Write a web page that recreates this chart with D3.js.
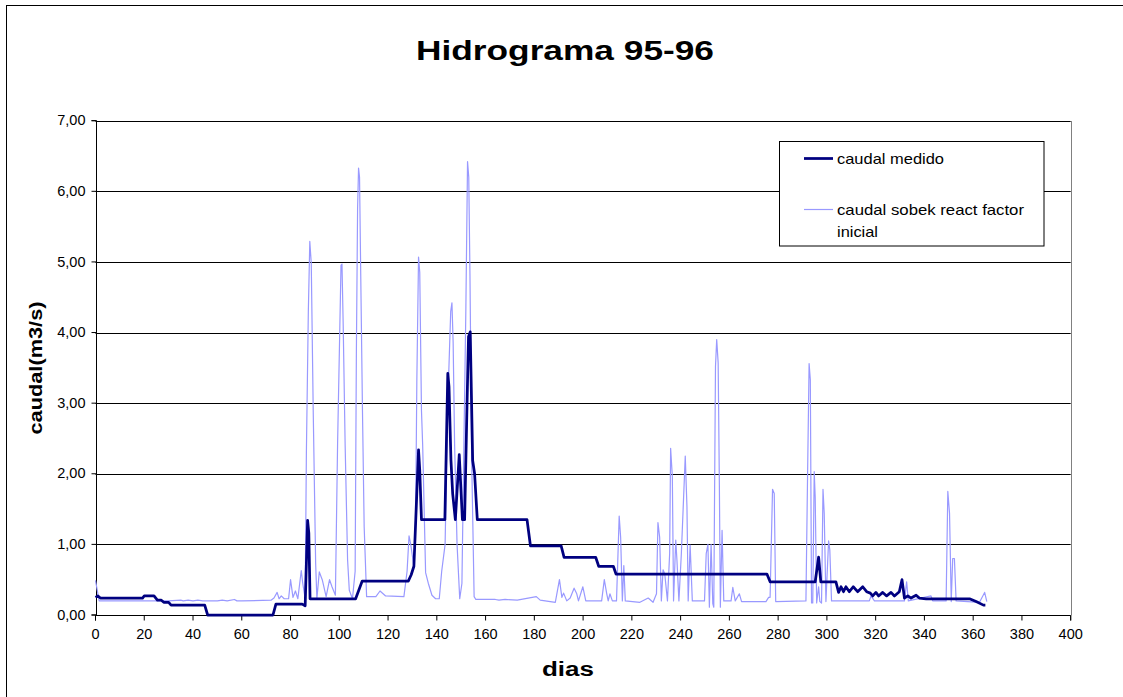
<!DOCTYPE html>
<html>
<head>
<meta charset="utf-8">
<script src="https://cdn.jsdelivr.net/npm/d3@7"></script>
<style>
  html, body { margin: 0; padding: 0; background: #fff; }
  svg { display: block; font-family: "Liberation Sans", Arial, sans-serif; }
</style>
</head>
<body>
<svg id="chart" width="1123" height="697"></svg>
<script>
// ---- Data ----
const titleText = "Hidrograma 95-96";
const xTitle = "dias";
const yTitle = "caudal(m3/s)";
const seriesNames = ["caudal medido", "caudal sobek react factor", "inicial"];
const xTicks = [0,20,40,60,80,100,120,140,160,180,200,220,240,260,280,300,320,340,360,380,400];
const yTicks = [0,1,2,3,4,5,6,7];

// caudal medido (breakpoints: day, value)
const medidoDays = [0,1,2,19.3,20,24,25.4,27,28,30,31,44.8,46,72.8,74,84.8,86,87,87.5,88,106.7,109.4,128.3,129.5,130.6,132.5,133,133.7,143.3,144.5,145,145.8,146.5,147.6,149.2,150.5,151.4,152.4,153,153.7,154.7,155.5,156.6,177,178.4,191,192.2,205.2,206.4,212.4,213.5,275.4,276.7,295.2,296.6,297.5,303.7,304.8,305.8,306.8,307.8,309.2,310.8,312.6,314.7,316.3,317.8,318.8,320.1,321.2,322.9,324.5,326.3,327.7,329.7,330.8,331.8,333.2,334.5,336.6,337.9,340.7,358.5,361.2,364.2,365];
const medidoQ    = [0.25,0.27,0.24,0.24,0.27,0.27,0.21,0.21,0.18,0.18,0.14,0.14,0,0,0.155,0.155,0.13,1.34,1.16,0.23,0.23,0.48,0.48,0.57,0.69,2.34,2.05,1.35,1.35,3.42,3.23,2.19,1.72,1.35,2.27,1.35,1.35,3.0,3.94,4.01,2.19,2.0,1.35,1.35,0.98,0.98,0.815,0.815,0.69,0.69,0.58,0.58,0.47,0.47,0.82,0.47,0.47,0.32,0.40,0.33,0.40,0.33,0.40,0.33,0.40,0.33,0.31,0.27,0.32,0.27,0.32,0.27,0.32,0.27,0.33,0.50,0.24,0.27,0.24,0.28,0.24,0.23,0.23,0.19,0.14,0.14];

// caudal sobek react factor inicial (breakpoints: day, value)
const sobekDays = [0,1.5,10,20,30,35,36,38,40,42,44,50,52,54,57,58,60,72,73.2,74.5,75.3,76.2,77.4,79.2,80,81,82,83,84.4,85,86,86.5,87.3,87.9,88.5,89.3,90.3,90.8,91.8,93,94.6,96,97,98.4,99.3,100.7,101.1,101.6,102.4,103.4,104.1,105.4,106.5,107,107.5,107.9,108.3,108.8,109.5,110.2,111.2,115,116.7,119,126.5,127.8,128.6,129.3,130.6,131.3,131.8,132.5,133,133.7,134.2,135.4,136.5,138,139.5,141,142,143.4,144.4,145.7,146.2,146.7,147.3,148.3,149.4,150.3,151.1,151.9,152.6,153.1,153.6,154.3,155.3,156,164,165.5,168,173,180.8,182.4,188.6,190.3,191.3,192,193.3,194.7,196.3,197.4,198.1,199.9,201.1,207.6,208.7,209.7,210.3,211,212,213.7,214.8,215.4,216.1,216.7,217.3,223.3,226.7,228.7,230.1,230.7,231.4,232.1,232.8,233.5,234.6,235.5,235.9,236.6,237.1,238,238.5,239.3,240.3,241.9,242.6,243.1,243.9,244.8,249.8,250.5,251.2,251.8,252.5,253.2,253.6,254.3,254.8,255.4,255.9,256.3,257,257.7,260.7,261.4,262.4,264.1,265,275,276.1,276.7,277.7,278.4,279,291.4,292.1,292.7,293.2,293.7,294.2,294.8,295.2,295.8,296.6,297.1,297.8,298.4,298.9,299.6,300.7,301.2,301.9,317.4,318.1,319.5,331.8,332.7,333.4,342.7,343.4,348.9,349.6,350.3,351,351.6,352.3,353,362.6,364.7,365.6];
const sobekQ    = [0.49,0.2,0.2,0.2,0.2,0.21,0.2,0.21,0.2,0.21,0.2,0.2,0.21,0.2,0.22,0.2,0.2,0.21,0.24,0.32,0.23,0.27,0.23,0.23,0.5,0.25,0.34,0.23,0.63,0.45,0.23,2.3,4.3,5.29,4.98,2.9,0.73,0.23,0.61,0.5,0.26,0.5,0.4,0.28,2.43,4.95,4.97,4.1,2.4,0.78,0.35,0.23,0.62,3.7,5.75,6.33,6.2,4.8,2.9,1.25,0.26,0.26,0.34,0.27,0.26,0.62,1.12,1.0,0.68,1.3,3.3,5.07,4.85,2.9,2.4,0.6,0.45,0.28,0.23,0.23,0.62,1.0,2.9,4.3,4.42,3.85,2.4,1.0,0.23,0.45,2.4,4.3,6.42,6.2,4.8,2.2,0.26,0.22,0.22,0.21,0.22,0.21,0.26,0.21,0.18,0.50,0.25,0.31,0.20,0.24,0.38,0.30,0.20,0.40,0.20,0.20,0.50,0.30,0.20,0.30,0.20,0.20,1.40,1.10,0.20,0.70,0.20,0.18,0.24,0.18,0.30,1.31,1.10,0.20,0.64,0.58,0.20,0.87,2.36,1.96,0.20,1.06,0.77,0.20,0.87,2.25,1.53,0.20,0.99,0.20,0.20,0.87,1.00,0.11,1.00,0.16,0.11,3.52,3.90,3.57,1.82,0.11,1.20,0.20,0.20,0.39,0.20,0.30,0.19,0.19,0.25,0.25,1.78,1.72,0.19,0.20,2.05,3.56,3.33,0.17,0.17,2.03,1.67,0.17,0.40,0.19,0.17,1.78,1.44,0.19,1.05,0.92,0.20,0.20,0.27,0.20,0.20,0.47,0.20,0.27,0.20,0.20,1.75,1.44,0.19,0.80,0.80,0.20,0.18,0.32,0.19];

// ---- Drawing ----
const svg = d3.select("#chart");
const W = 1123, H = 697;
const plot = { left: 95.5, right: 1070.7, top: 120.7, bottom: 615 };

const x = d3.scaleLinear().domain([0, 400]).range([plot.left, plot.right]);
const y = d3.scaleLinear().domain([0, 7]).range([plot.bottom, plot.top]);

// outer border
svg.append("rect").attr("x", 6.5).attr("y", 5.5).attr("width", 1300).attr("height", 900)
  .attr("fill", "#fff").attr("stroke", "#000").attr("stroke-width", 1);

// gridlines
svg.append("g").selectAll("line").data(yTicks.filter(d => d > 0)).join("line")
  .attr("x1", plot.left).attr("x2", plot.right)
  .attr("y1", d => Math.round(y(d)) + 0.5).attr("y2", d => Math.round(y(d)) + 0.5)
  .attr("stroke", "#000").attr("stroke-width", 1);

// right border of plot area (gray)
svg.append("line").attr("x1", Math.round(plot.right) + 0.5).attr("x2", Math.round(plot.right) + 0.5)
  .attr("y1", Math.round(plot.top)).attr("y2", Math.round(plot.bottom) + 0.5)
  .attr("stroke", "#808080").attr("stroke-width", 1);

const fmtY = d => d3.format(".2f")(d).replace(".", ",");

// y axis
const yAxis = svg.append("g").attr("transform", `translate(${Math.round(plot.left)+0.5},0)`)
  .call(d3.axisLeft(y).tickValues(yTicks).tickFormat(fmtY).tickSize(5).tickPadding(6).offset(0));
yAxis.select(".domain").attr("stroke", "#000");
yAxis.selectAll(".tick line").attr("stroke", "#000");
yAxis.selectAll(".tick text").attr("font-family", "Liberation Sans, Arial, sans-serif")
  .attr("font-size", 14.5).attr("fill", "#000");

// x axis
const xAxis = svg.append("g").attr("transform", `translate(0,${Math.round(plot.bottom)+0.5})`)
  .call(d3.axisBottom(x).tickValues(xTicks).tickFormat(d3.format("d")).tickSize(5).tickPadding(8).offset(0));
xAxis.select(".domain").attr("stroke", "#000");
xAxis.selectAll(".tick line").attr("stroke", "#000");
xAxis.selectAll(".tick text").attr("font-family", "Liberation Sans, Arial, sans-serif")
  .attr("font-size", 14.5).attr("fill", "#000");

// lines
const sobek = sobekDays.map((d, i) => [d, sobekQ[i]]);
const medido = medidoDays.map((d, i) => [d, medidoQ[i]]);
const line = d3.line().x(d => x(d[0])).y(d => y(d[1]));

svg.append("path").datum(sobek).attr("d", line)
  .attr("fill", "none").attr("stroke", "#9999ff").attr("stroke-width", 1.2).attr("stroke-linejoin", "round");
svg.append("path").datum(medido).attr("d", line)
  .attr("fill", "none").attr("stroke", "#000080").attr("stroke-width", 2.75).attr("stroke-linejoin", "round");

// title
svg.append("text").attr("x", 565).attr("y", 60).attr("text-anchor", "middle")
  .attr("font-size", 28).attr("font-weight", "bold").attr("textLength", 298)
  .attr("lengthAdjust", "spacingAndGlyphs").text(titleText);

// axis titles
svg.append("text").attr("transform", "translate(42,368) rotate(-90)").attr("text-anchor", "middle")
  .attr("font-size", 18).attr("font-weight", "bold").attr("textLength", 133)
  .attr("lengthAdjust", "spacingAndGlyphs").text(yTitle);
svg.append("text").attr("x", 568).attr("y", 676).attr("text-anchor", "middle")
  .attr("font-size", 20).attr("font-weight", "bold").attr("textLength", 52)
  .attr("lengthAdjust", "spacingAndGlyphs").text(xTitle);

// legend
const lg = svg.append("g");
lg.append("rect").attr("x", 779.5).attr("y", 141.5).attr("width", 264.5).attr("height", 104.5)
  .attr("fill", "#fff").attr("stroke", "#000").attr("stroke-width", 1);
lg.append("line").attr("x1", 804).attr("x2", 833).attr("y1", 158.5).attr("y2", 158.5)
  .attr("stroke", "#000080").attr("stroke-width", 2.75);
lg.append("line").attr("x1", 804).attr("x2", 833).attr("y1", 209.5).attr("y2", 209.5)
  .attr("stroke", "#9999ff").attr("stroke-width", 1.2);
lg.append("text").attr("x", 837).attr("y", 164).attr("font-size", 15)
  .attr("textLength", 107).attr("lengthAdjust", "spacingAndGlyphs").text(seriesNames[0]);
lg.append("text").attr("x", 837).attr("y", 214.5).attr("font-size", 15)
  .attr("textLength", 187).attr("lengthAdjust", "spacingAndGlyphs").text(seriesNames[1]);
lg.append("text").attr("x", 837).attr("y", 236.5).attr("font-size", 15)
  .attr("textLength", 41).attr("lengthAdjust", "spacingAndGlyphs").text(seriesNames[2]);
</script>
</body>
</html>
